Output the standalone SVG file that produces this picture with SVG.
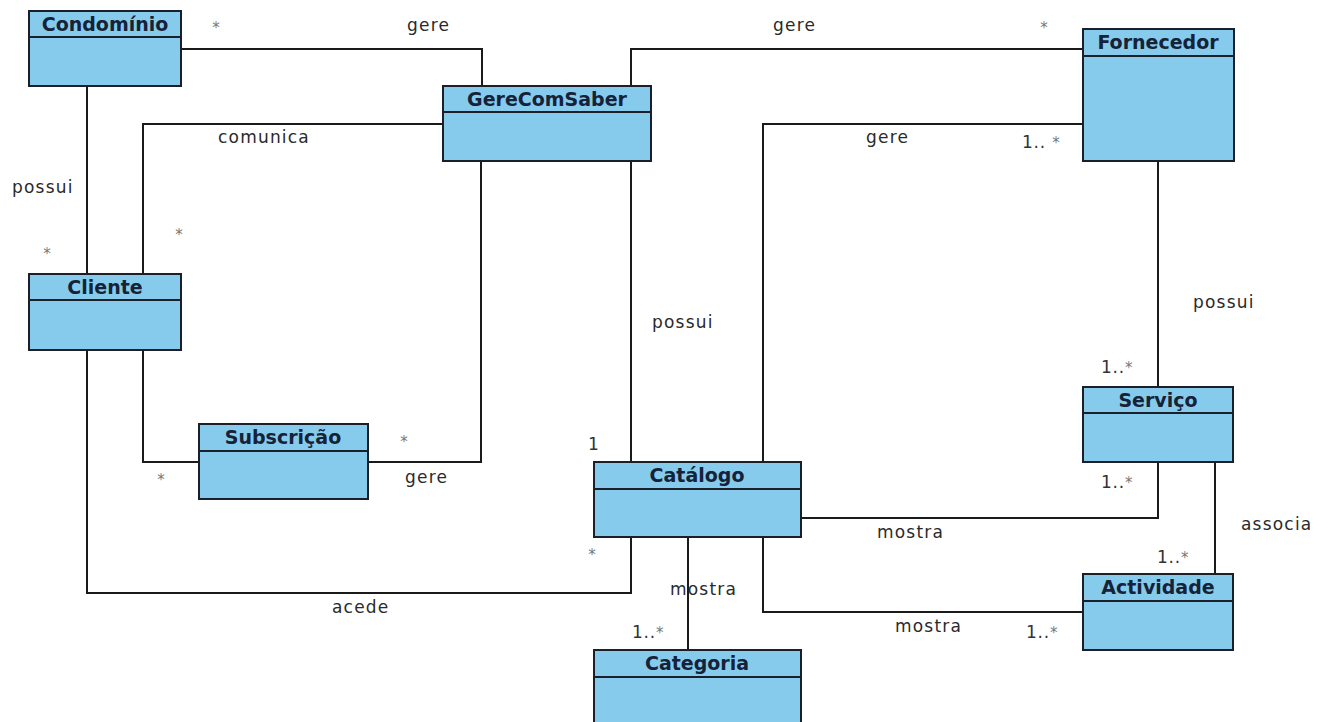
<svg xmlns="http://www.w3.org/2000/svg" width="1328" height="722" viewBox="0 0 1328 722">
<style>
.box{fill:#86CBEC;stroke:#1b1f2a;stroke-width:2}
.div{stroke:#1b1f2a;stroke-width:2}
.title{font-family:"DejaVu Sans","Liberation Sans",sans-serif;font-weight:bold;font-size:19px;fill:#152238;text-anchor:middle}
.conn{fill:none;stroke:#1a1a1a;stroke-width:2}
.lbl{font-family:"DejaVu Sans","Liberation Sans",sans-serif;font-size:17px;fill:#2a2a2a;letter-spacing:1.2px}
.mult{font-family:"DejaVu Sans","Liberation Sans",sans-serif;font-size:17px;fill:#333;letter-spacing:0.8px}
.star{fill:#777;font-size:15px}
.st{font-family:"DejaVu Sans","Liberation Sans",sans-serif;font-size:15px;fill:#777;text-anchor:middle}
</style>
<rect width="1328" height="722" fill="#ffffff"/>
<g id="connectors">
<path class="conn" d="M181,49 H482 V86"/>
<path class="conn" d="M631,86 V49 H1083"/>
<path class="conn" d="M443,124 H143 V274"/>
<path class="conn" d="M87,86 V274"/>
<path class="conn" d="M143,350 V462 H199"/>
<path class="conn" d="M368,462 H481 V161"/>
<path class="conn" d="M631,161 V462"/>
<path class="conn" d="M763,462 V124 H1083"/>
<path class="conn" d="M1158,161 V387"/>
<path class="conn" d="M801,518 H1158 V462"/>
<path class="conn" d="M1215,462 V574"/>
<path class="conn" d="M763,537 V612 H1083"/>
<path class="conn" d="M688,537 V650"/>
<path class="conn" d="M87,350 V593 H631 V537"/>
</g>
<g id="labels">
<text class="lbl" x="407" y="31">gere</text>
<text class="lbl" x="773" y="31">gere</text>
<text class="lbl" x="866" y="143">gere</text>
<text class="lbl" x="218" y="143">comunica</text>
<text class="lbl" x="12" y="193">possui</text>
<text class="lbl" x="652" y="328">possui</text>
<text class="lbl" x="1193" y="308">possui</text>
<text class="lbl" x="405" y="483">gere</text>
<text class="lbl" x="332" y="613">acede</text>
<text class="lbl" x="877" y="538">mostra</text>
<text class="lbl" x="895" y="632">mostra</text>
<text class="lbl" x="670" y="595">mostra</text>
<text class="lbl" x="1241" y="530">associa</text>
<text class="st" x="216" y="33">*</text>
<text class="st" x="1044" y="33">*</text>
<text class="st" x="47" y="259">*</text>
<text class="st" x="179" y="240">*</text>
<text class="st" x="404" y="447">*</text>
<text class="st" x="161" y="485">*</text>
<text class="st" x="592" y="560">*</text>
<text class="mult" x="588" y="450">1</text>
<text class="mult" x="1022" y="148">1.. <tspan class="star">*</tspan></text>
<text class="mult" x="1101" y="373">1..<tspan class="star">*</tspan></text>
<text class="mult" x="1101" y="488">1..<tspan class="star">*</tspan></text>
<text class="mult" x="1157" y="563">1..<tspan class="star">*</tspan></text>
<text class="mult" x="1026" y="638">1..<tspan class="star">*</tspan></text>
<text class="mult" x="632" y="638">1..<tspan class="star">*</tspan></text>
</g>
<g id="Condominio">
<rect class="box" x="29" y="11" width="152" height="75"/>
<line class="div" x1="29" y1="37" x2="181" y2="37"/>
<text class="title" x="105" y="31">Condomínio</text>
</g>
<g id="GereComSaber">
<rect class="box" x="443" y="86" width="208" height="75"/>
<line class="div" x1="443" y1="112" x2="651" y2="112"/>
<text class="title" x="547" y="106">GereComSaber</text>
</g>
<g id="Fornecedor">
<rect class="box" x="1083" y="29" width="151" height="132"/>
<line class="div" x1="1083" y1="56" x2="1234" y2="56"/>
<text class="title" x="1158" y="49">Fornecedor</text>
</g>
<g id="Cliente">
<rect class="box" x="29" y="274" width="152" height="76"/>
<line class="div" x1="29" y1="300" x2="181" y2="300"/>
<text class="title" x="105" y="294">Cliente</text>
</g>
<g id="Subscricao">
<rect class="box" x="199" y="424" width="169" height="75"/>
<line class="div" x1="199" y1="451" x2="368" y2="451"/>
<text class="title" x="283" y="444">Subscrição</text>
</g>
<g id="Catalogo">
<rect class="box" x="594" y="462" width="207" height="75"/>
<line class="div" x1="594" y1="489" x2="801" y2="489"/>
<text class="title" x="697" y="482">Catálogo</text>
</g>
<g id="Categoria">
<rect class="box" x="594" y="650" width="207" height="82"/>
<line class="div" x1="594" y1="677" x2="801" y2="677"/>
<text class="title" x="697" y="670">Categoria</text>
</g>
<g id="Servico">
<rect class="box" x="1083" y="387" width="150" height="75"/>
<line class="div" x1="1083" y1="413" x2="1233" y2="413"/>
<text class="title" x="1158" y="407">Serviço</text>
</g>
<g id="Actividade">
<rect class="box" x="1083" y="574" width="150" height="76"/>
<line class="div" x1="1083" y1="601" x2="1233" y2="601"/>
<text class="title" x="1158" y="594">Actividade</text>
</g>
</svg>
